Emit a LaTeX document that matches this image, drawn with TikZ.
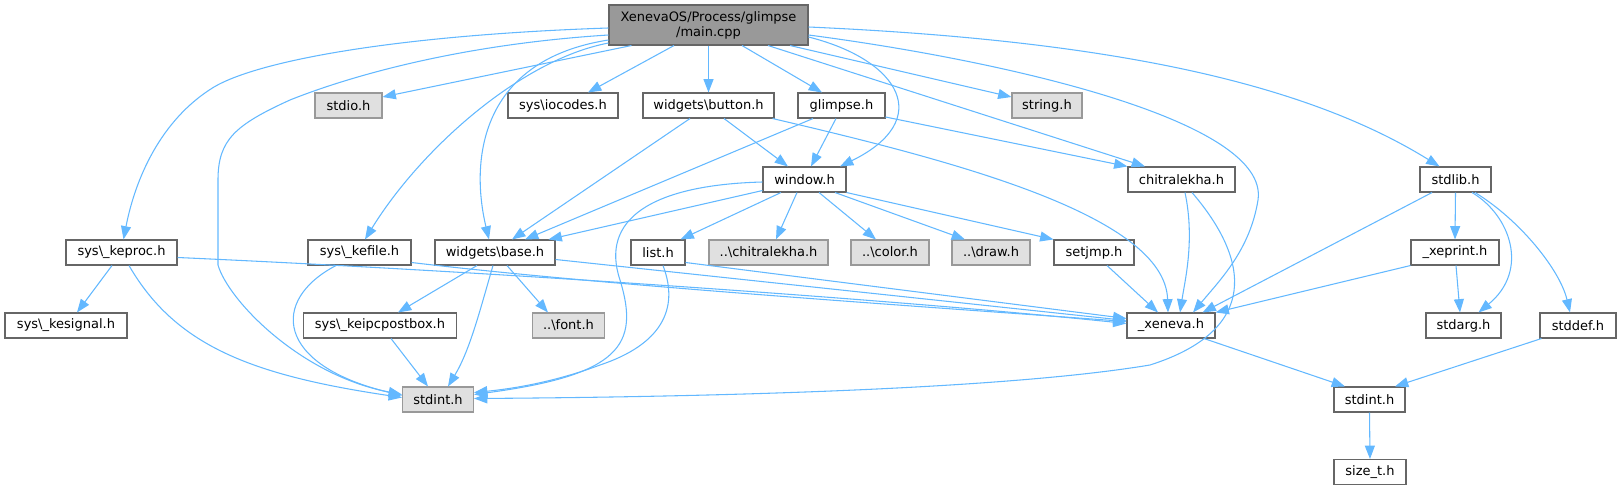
\documentclass[tikz,border=0pt]{standalone}
\usepackage{fontspec}
\setmainfont{DejaVu Sans}
\usetikzlibrary{arrows.meta,calc}
\definecolor{edgeblue}{HTML}{63B8FF}
\definecolor{bordA}{HTML}{666666}
\definecolor{bordB}{HTML}{999999}
\definecolor{fillB}{HTML}{E0E0E0}
\definecolor{fillM}{HTML}{999999}
\begin{document}
\begin{tikzpicture}[x=0.75pt,y=-0.75pt,
  nbox/.style={draw=bordA, fill=white, line width=0.8pt, minimum height=25*0.75pt, inner sep=0pt,
    font=\fontsize{9.75}{11.25}\selectfont, text=black},
  gnbox/.style={nbox, draw=bordB, fill=fillB},
  wd/.style={minimum width=#1*0.75pt},
  dep/.style={draw=edgeblue, line width=0.8pt, -{Triangle[length=10pt,width=7.5pt]}}]
\useasboundingbox (0,0) rectangle (1621,491);
% nodes
\node[nbox, fill=fillM, wd=199, minimum height=40*0.75pt, align=center] (main) at (708.5,25) {XenevaOS/Process/glimpse\\/main.cpp};
\node[gnbox, wd=67] (stdio) at (348.5,105.5) {stdio.h};
\node[nbox, wd=110] (iocodes) at (563,105.5) {sys\textbackslash{}iocodes.h};
\node[nbox, wd=131] (button) at (708.5,105.5) {widgets\textbackslash{}button.h};
\node[nbox, wd=87] (glimpse) at (841.5,105.5) {glimpse.h};
\node[gnbox, wd=70] (string) at (1047,105.5) {string.h};
\node[nbox, wd=83] (window) at (804.5,179.5) {window.h};
\node[nbox, wd=107] (chitralekha) at (1181.5,179.5) {chitralekha.h};
\node[nbox, wd=71] (stdlib) at (1455.5,179.5) {stdlib.h};
\node[nbox, wd=111] (keproc) at (121.5,252.5) {sys\textbackslash\_keproc.h};
\node[nbox, wd=103] (kefile) at (359.5,252.5) {sys\textbackslash\_kefile.h};
\node[nbox, wd=120] (base) at (495,252.5) {widgets\textbackslash{}base.h};
\node[nbox, wd=54] (list) at (658,252.5) {list.h};
\node[gnbox, wd=119] (dchitra) at (768.5,252.5) {..\textbackslash{}chitralekha.h};
\node[gnbox, wd=78] (color) at (890,252.5) {..\textbackslash{}color.h};
\node[gnbox, wd=78] (draw) at (991,252.5) {..\textbackslash{}draw.h};
\node[nbox, wd=80] (setjmp) at (1094,252.5) {setjmp.h};
\node[nbox, wd=88] (xeprint) at (1455,252.5) {\_xeprint.h};
\node[nbox, wd=122] (kesignal) at (66,325.5) {sys\textbackslash\_kesignal.h};
\node[nbox, wd=153] (ipc) at (380,325.5) {sys\textbackslash\_keipcpostbox.h};
\node[gnbox, wd=72] (font) at (568.5,325.5) {..\textbackslash{}font.h};
\node[nbox, wd=88] (xeneva) at (1171,325.5) {\_xeneva.h};
\node[nbox, wd=75] (stdarg) at (1463.5,325.5) {stdarg.h};
\node[nbox, wd=76] (stddef) at (1578,325.5) {stddef.h};
\node[gnbox, wd=71] (stdintg) at (438,399.5) {stdint.h};
\node[nbox, wd=71] (stdintw) at (1369.5,399.5) {stdint.h};
\node[nbox, wd=72] (sizet) at (1370,472) {size\_t.h};
% edges from main
\draw[dep] ($(main.west)+(0,3)$) .. controls (400,35) and (260,60) .. (214,87) .. controls (160,120) and (135,180) .. ($(keproc.north)+(2,0)$);
\draw[dep] ($(main.west)+(0,10)$) .. controls (450,45) and (340,80) .. (290,100) .. controls (235,125) and (218,140) .. (218,180) -- (218,265) .. controls (228,300) and (300,375) .. ($(stdintg.west)+(0,-5)$);
\draw[dep] ($(main.south west)+(23,0)$) -- ($(stdio.east)+(0,-8.5)$);
\draw[dep] ($(main.west)+(0,18)$) .. controls (520,60) and (420,150) .. ($(kefile.north)+(5.5,0)$);
\draw[dep] ($(main.west)+(0,15)$) .. controls (480,60) and (470,160) .. ($(base.north)+(-6,0)$);
\draw[dep] ($(main.south)+(-34.5,0)$) -- ($(iocodes.north)+(25,0)$);
\draw[dep] (main.south) -- (button.north);
\draw[dep] ($(main.south)+(33.5,0)$) -- ($(glimpse.north)+(-19.5,0)$);
\draw[dep] ($(main.east)+(0,12)$) .. controls (900,60) and (935,120) .. ($(window.north)+(35.5,0)$);
\draw[dep] ($(main.south)+(81.5,0)$) -- ($(string.west)+(0,-8.5)$);
\draw[dep] ($(main.south)+(59.5,0)$) -- ($(chitralekha.north)+(-36.5,0)$);
\draw[dep] ($(main.east)+(0,2)$) .. controls (1100,40) and (1300,80) .. ($(stdlib.north)+(-16,0)$);
\draw[dep] ($(main.east)+(0,10)$) .. controls (1000,60) and (1270,120) .. (1258,200) .. controls (1250,250) and (1220,280) .. ($(xeneva.north)+(22,0)$);
% button
\draw[dep] ($(button.south)+(-18.5,0)$) -- ($(base.north)+(17,0)$);
\draw[dep] ($(button.south)+(15.5,0)$) -- ($(window.north)+(-16.5,0)$);
\draw[dep] ($(button.south east)+(-2,0)$) .. controls (950,160) and (1165,215) .. ($(xeneva.north)+(-3,0)$);
% glimpse
\draw[dep] ($(glimpse.south)+(-28.5,0)$) -- ($(base.north)+(30,0)$);
\draw[dep] ($(glimpse.south)+(-5.5,0)$) -- ($(window.north)+(6.5,0)$);
\draw[dep] ($(glimpse.east)+(0,11.5)$) -- (chitralekha.north west);
% window
\draw[dep] ($(window.south west)+(0,-2)$) -- ($(base.north east)+(-7,0)$);
\draw[dep] ($(window.west)+(0,2.5)$) .. controls (650,185) and (600,220) .. (620,280) .. controls (640,345) and (620,375) .. ($(stdintg.east)+(0,-5)$);
\draw[dep] ($(window.south)+(-23.5,0)$) -- ($(list.north east)+(-5,0)$);
\draw[dep] ($(window.south)+(-7.5,0)$) -- ($(dchitra.north)+(7.5,0)$);
\draw[dep] ($(window.south)+(14.5,0)$) -- ($(color.north)+(-14,0)$);
\draw[dep] ($(window.south)+(30.5,0)$) -- ($(draw.north)+(-26,0)$);
\draw[dep] (window.south east) -- (setjmp.north west);
% chitralekha
\draw[dep] ($(chitralekha.south)+(3.5,0)$) .. controls (1195,240) and (1185,280) .. ($(xeneva.north)+(9,0)$);
\draw[dep] ($(chitralekha.south)+(10.5,0)$) .. controls (1250,260) and (1260,330) .. (1150,365) .. controls (1000,390) and (700,397) .. ($(stdintg.east)+(0,-1)$);
% stdlib
\draw[dep] ($(stdlib.south)+(-23.5,0)$) -- ($(xeneva.north east)+(-13,0)$);
\draw[dep] (stdlib.south) -- (xeprint.north);
\draw[dep] ($(stdlib.south)+(16.5,0)$) .. controls (1510,215) and (1530,270) .. ($(stdarg.north)+(15,0)$);
\draw[dep] ($(stdlib.south)+(19.5,0)$) .. controls (1520,220) and (1560,270) .. ($(stddef.north)+(-8,0)$);
% xeprint, setjmp, list
\draw[dep] (xeprint.south west) -- (xeneva.north east);
\draw[dep] ($(xeprint.south)+(1,0)$) -- ($(stdarg.north)+(-3.5,0)$);
\draw[dep] ($(setjmp.south)+(13,0)$) -- ($(xeneva.north)+(-13,0)$);
\draw[dep] ($(list.east)+(0,10)$) -- ($(xeneva.west)+(0,-7)$);
\draw[dep] ($(list.south)+(5,0)$) .. controls (680,310) and (660,345) .. (600,365) .. controls (560,380) and (520,388) .. ($(stdintg.east)+(0,-7)$);
% base
\draw[dep] ($(base.south)+(-18,0)$) -- ($(ipc.north)+(18,0)$);
\draw[dep] ($(base.south)+(12,0)$) -- ($(font.north)+(-20.5,0)$);
\draw[dep] ($(base.south)+(-2,0)$) .. controls (480,310) and (470,350) .. ($(stdintg.north)+(10,0)$);
\draw[dep] ($(base.east)+(0,7)$) -- ($(xeneva.west)+(0,-5)$);
% keproc, kefile, ipc
\draw[dep] ($(keproc.south)+(-9.5,0)$) -- ($(kesignal.north)+(11,0)$);
\draw[dep] ($(keproc.south)+(7.5,0)$) .. controls (175,345) and (250,375) .. ($(stdintg.west)+(0,-2)$);
\draw[dep] ($(keproc.east)+(0,5)$) .. controls (500,272) and (900,300) .. ($(xeneva.west)+(0,-2)$);
\draw[dep] ($(kefile.south)+(-23.5,0)$) .. controls (270,300) and (275,365) .. ($(stdintg.west)+(0,-4)$);
\draw[dep] ($(kefile.east)+(0,10)$) .. controls (600,285) and (900,305) .. ($(xeneva.west)+(0,-4)$);
\draw[dep] ($(ipc.south)+(11,0)$) -- ($(stdintg.north)+(-10,0)$);
% lower right
\draw[dep] ($(xeneva.south)+(33,0)$) -- ($(stdintw.north)+(-24.5,0)$);
\draw[dep] ($(stddef.south west)+(2,0)$) -- ($(stdintw.north)+(25.5,0)$);
\draw[dep] (stdintw.south) -- (sizet.north);
\end{tikzpicture}
\end{document}
